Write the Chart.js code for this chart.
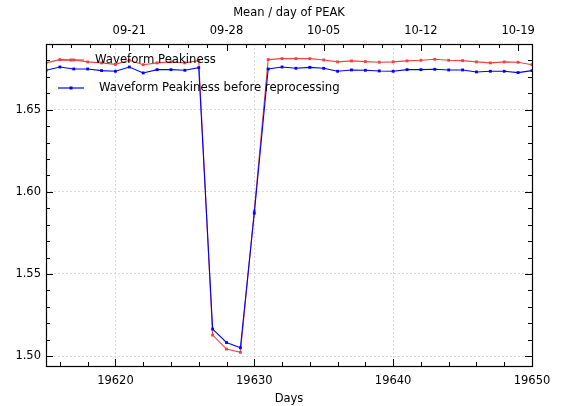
<!DOCTYPE html>
<html>
<head>
<meta charset="utf-8">
<style>
  html, body { margin: 0; padding: 0; background: #fff; }
  #wrap { width: 565px; height: 406px; }
</style>
</head>
<body>
<div id="wrap"><canvas id="peakChart" width="565" height="406"></canvas></div>
<script src="https://cdn.jsdelivr.net/npm/chart.js"></script>
<script>
// jours (MJD-like day numbers) et valeurs
const days = [19615, 19616, 19617, 19618, 19619, 19620, 19621, 19622, 19623, 19624,
              19625, 19626, 19627, 19628, 19629, 19630, 19631, 19632, 19633, 19634,
              19635, 19636, 19637, 19638, 19639, 19640, 19641, 19642, 19643, 19644,
              19645, 19646, 19647, 19648, 19649, 19650];

const peakiness = [1.6785, 1.6805, 1.6803, 1.6791, 1.6785, 1.6776, 1.6801, 1.6774, 1.6785, 1.6791,
                   1.6785, 1.6799, 1.5128, 1.5043, 1.5023, 1.5884, 1.6805, 1.6811, 1.6811, 1.6811,
                   1.6803, 1.6791, 1.6797, 1.6793, 1.6789, 1.6791, 1.6797, 1.6801, 1.6807, 1.6801,
                   1.6799, 1.6791, 1.6785, 1.6791, 1.6789, 1.6774];

const peakinessBefore = [1.6740, 1.6760, 1.6748, 1.6748, 1.6738, 1.6734, 1.6760, 1.6724, 1.6744, 1.6744,
                         1.6740, 1.6756, 1.5165, 1.5083, 1.5051, 1.5870, 1.6748, 1.6760, 1.6752, 1.6758,
                         1.6752, 1.6734, 1.6742, 1.6740, 1.6736, 1.6734, 1.6744, 1.6744, 1.6746, 1.6742,
                         1.6742, 1.6730, 1.6734, 1.6734, 1.6726, 1.6738];

const dayTicks   = [19620, 19630, 19640, 19650];
const yTicks     = [1.50, 1.55, 1.60, 1.65];
const dateTicks  = [19621, 19628, 19635, 19642, 19649];
const dateLabels = ['09-21', '09-28', '10-05', '10-12', '10-19'];

const RED  = 'rgb(240,64,64)';
const BLUE = 'rgb(0,0,255)';
const FONT = 'DejaVu Sans';

// cadre, graduations vers l'intérieur et légende (style matplotlib)
const framePlugin = {
  id: 'frame',
  afterDatasetsDraw(chart) {
    const { ctx, chartArea: a, scales } = chart;
    const x = scales.x, y = scales.y, x2 = scales.x2;
    ctx.save();
    ctx.strokeStyle = '#000';
    ctx.lineWidth = 1;

    const tick = (x0, y0, x1, y1) => {
      ctx.beginPath(); ctx.moveTo(x0, y0); ctx.lineTo(x1, y1); ctx.stroke();
    };

    // bas : majeures tous les 10 j, mineures tous les 2 j
    for (let d = 19616; d <= 19650; d += 2) {
      const px = Math.round(x.getPixelForValue(d)) + 0.5;
      const len = d % 10 === 0 ? 7 : 4;
      tick(px, a.bottom, px, a.bottom - len);
    }
    // haut : dates, mineures tous les 1.4 j
    for (let k = -4; k <= 21; k++) {
      const d = 19621 + 1.4 * k;
      if (d < 19615 || d > 19650) continue;
      const px = Math.round(x2.getPixelForValue(d)) + 0.5;
      const len = k % 5 === 0 ? 7 : 4;
      tick(px, a.top, px, a.top + len);
    }
    // gauche / droite : majeures 0.05, mineures 0.01
    for (let i = 0; i <= 19; i++) {
      const v = 1.50 + i * 0.01;
      const py = Math.round(y.getPixelForValue(v)) + 0.5;
      const len = i % 5 === 0 ? 7 : 4;
      tick(a.left, py, a.left + len, py);
      tick(a.right, py, a.right - len, py);
    }

    ctx.lineWidth = 1.2;
    ctx.strokeRect(Math.round(a.left) + 0.5, Math.round(a.top) + 0.5,
                   Math.round(a.right - a.left), Math.round(a.bottom - a.top));

    // légende
    ctx.font = '11.7px ' + FONT;
    ctx.textBaseline = 'middle';
    ctx.fillStyle = '#000';
    const items = [
      { color: RED, text: 'Waveform Peakiness', y: 60, tx: 95 },
      { color: BLUE, text: 'Waveform Peakiness before reprocessing', y: 88, tx: 99 }
    ];
    items.forEach(it => {
      ctx.strokeStyle = it.color;
      ctx.lineWidth = 1.2;
      tick(58, it.y, 84, it.y);
      ctx.fillStyle = it.color;
      ctx.fillRect(69.5, it.y - 1.5, 3, 3);
      ctx.fillStyle = '#000';
      ctx.fillText(it.text, it.tx, it.y);
    });
    ctx.restore();
  }
};

const ctx = document.getElementById('peakChart').getContext('2d');
new Chart(ctx, {
  type: 'line',
  data: {
    datasets: [
      {
        label: 'Waveform Peakiness before reprocessing',
        data: days.map((d, i) => ({ x: d, y: peakinessBefore[i] })),
        borderColor: BLUE, backgroundColor: BLUE,
        borderWidth: 1.1, pointStyle: 'rect', pointRadius: 2, pointBorderWidth: 0,
        tension: 0, order: 1
      },
      {
        label: 'Waveform Peakiness',
        data: days.map((d, i) => ({ x: d, y: peakiness[i] })),
        borderColor: RED, backgroundColor: RED,
        borderWidth: 1.1, pointStyle: 'rect', pointRadius: 2, pointBorderWidth: 0,
        tension: 0, order: 2
      }
    ]
  },
  options: {
    responsive: false,
    animation: false,
    layout: { padding: { left: 0, right: 33, top: 0, bottom: 0 } },
    plugins: { legend: { display: false }, tooltip: { enabled: false } },
    scales: {
      x: {
        type: 'linear', position: 'bottom', min: 19615, max: 19650,
        afterBuildTicks: s => { s.ticks = dayTicks.map(v => ({ value: v })); },
        afterFit: s => { s.height = 40; },
        border: { display: false, dash: [2, 2] },
        grid: { color: '#cfcfcf', drawTicks: false, lineWidth: 0.8 },
        ticks: { color: '#000', padding: 8, maxRotation: 0, font: { family: FONT, size: 11.5 },
                 callback: v => String(v) },
        title: { display: true, text: 'Days', color: '#000', padding: { top: 1, bottom: 0 },
                 font: { family: FONT, size: 11.5 } }
      },
      x2: {
        type: 'linear', position: 'top', min: 19615, max: 19650,
        afterBuildTicks: s => { s.ticks = dateTicks.map(v => ({ value: v })); },
        afterFit: s => { s.height = 44; },
        border: { display: false },
        grid: { display: false, drawTicks: false },
        ticks: { color: '#000', padding: 6, maxRotation: 0, font: { family: FONT, size: 11.5 },
                 callback: v => dateLabels[dateTicks.indexOf(v)] },
        title: { display: true, text: 'Mean / day of PEAK', color: '#000', padding: { top: 6, bottom: 2 },
                 font: { family: FONT, size: 11.5 } }
      },
      y: {
        type: 'linear', position: 'left', min: 1.494, max: 1.690,
        afterBuildTicks: s => { s.ticks = yTicks.map(v => ({ value: v })); },
        afterFit: s => { s.width = 46; },
        border: { display: false, dash: [2, 2] },
        grid: { color: '#cfcfcf', drawTicks: false, lineWidth: 0.8 },
        ticks: { color: '#000', padding: 5, font: { family: FONT, size: 11.5 },
                 callback: v => v.toFixed(2) }
      }
    }
  },
  plugins: [framePlugin]
});
</script>
</body>
</html>
